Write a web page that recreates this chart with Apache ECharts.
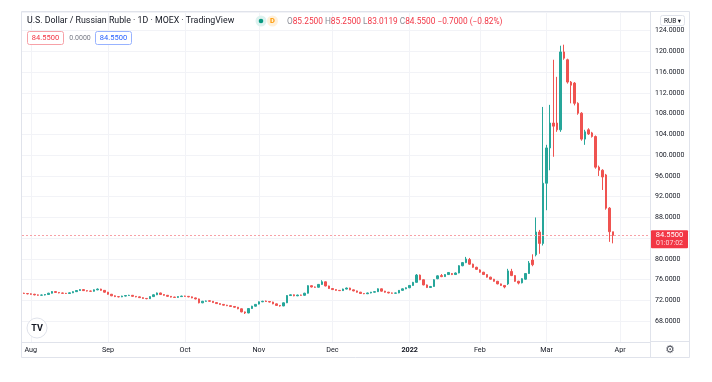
<!DOCTYPE html>
<html><head><meta charset="utf-8">
<script src="https://cdn.jsdelivr.net/npm/echarts@6/dist/echarts.min.js"></script>
<style>html,body{margin:0;padding:0;background:#fff;}#c{width:712px;height:382px;}</style>
</head><body><div id="c"></div>
<script>
const categories = [
'2021-07-29','2021-07-30',
'2021-08-02','2021-08-03','2021-08-04','2021-08-05','2021-08-06','2021-08-09','2021-08-10','2021-08-11','2021-08-12','2021-08-13','2021-08-16','2021-08-17','2021-08-18','2021-08-19','2021-08-20','2021-08-23','2021-08-24','2021-08-25','2021-08-26','2021-08-27','2021-08-30','2021-08-31',
'2021-09-01','2021-09-02','2021-09-03','2021-09-06','2021-09-07','2021-09-08','2021-09-09','2021-09-10','2021-09-13','2021-09-14','2021-09-15','2021-09-16','2021-09-17','2021-09-20','2021-09-21','2021-09-22','2021-09-23','2021-09-24','2021-09-27','2021-09-28','2021-09-29','2021-09-30',
'2021-10-01','2021-10-04','2021-10-05','2021-10-06','2021-10-07','2021-10-08','2021-10-11','2021-10-12','2021-10-13','2021-10-14','2021-10-15','2021-10-18','2021-10-19','2021-10-20','2021-10-21','2021-10-22','2021-10-25','2021-10-26','2021-10-27','2021-10-28','2021-10-29',
'2021-11-01','2021-11-02','2021-11-03','2021-11-05','2021-11-08','2021-11-09','2021-11-10','2021-11-11','2021-11-12','2021-11-15','2021-11-16','2021-11-17','2021-11-18','2021-11-19','2021-11-22','2021-11-23','2021-11-24','2021-11-25','2021-11-26','2021-11-29','2021-11-30',
'2021-12-01','2021-12-02','2021-12-03','2021-12-06','2021-12-07','2021-12-08','2021-12-09','2021-12-10','2021-12-13','2021-12-14','2021-12-15','2021-12-16','2021-12-17','2021-12-20','2021-12-21','2021-12-22','2021-12-23','2021-12-24','2021-12-27','2021-12-28','2021-12-29','2021-12-30',
'2022-01-03','2022-01-04','2022-01-05','2022-01-06','2022-01-10','2022-01-11','2022-01-12','2022-01-13','2022-01-14','2022-01-17','2022-01-18','2022-01-19','2022-01-20','2022-01-21','2022-01-24','2022-01-25','2022-01-26','2022-01-27','2022-01-28','2022-01-31',
'2022-02-01','2022-02-02','2022-02-03','2022-02-04','2022-02-07','2022-02-08','2022-02-09','2022-02-10','2022-02-11','2022-02-14','2022-02-15','2022-02-16','2022-02-17','2022-02-18','2022-02-21','2022-02-22','2022-02-24','2022-02-25','2022-02-28',
'2022-03-01','2022-03-02','2022-03-03','2022-03-04','2022-03-09','2022-03-10','2022-03-11','2022-03-14','2022-03-15','2022-03-16','2022-03-17','2022-03-18','2022-03-21','2022-03-22','2022-03-23','2022-03-24','2022-03-25','2022-03-28','2022-03-29','2022-03-30','2022-03-31',
'2022-04-01','2022-04-04','2022-04-05','2022-04-06','2022-04-07','2022-04-08','2022-04-11','2022-04-12','2022-04-13'
];

const opens = [
73.40,73.35,73.28,73.20,73.08,73.02,73.05,73.15,73.40,73.72,
73.55,73.45,73.38,73.35,73.48,73.70,73.92,74.10,73.90,73.82,
73.78,74.05,74.20,73.95,73.60,73.20,72.90,72.75,72.70,72.85,
72.95,73.00,72.80,72.70,72.55,72.40,72.35,72.75,73.10,73.45,
73.15,73.00,72.80,72.65,72.60,72.75,72.85,72.80,72.70,72.50,
72.30,71.55,71.85,71.95,71.85,71.60,71.40,71.25,71.10,71.00,
70.85,70.70,70.40,69.80,69.60,70.45,70.90,71.30,71.75,71.90,
71.80,71.70,71.35,71.05,70.95,71.55,72.95,73.10,72.90,73.05,
73.00,73.40,74.85,74.60,74.55,75.10,75.60,74.80,74.30,74.10,
73.95,73.90,74.20,74.40,74.05,73.85,73.60,73.35,73.30,73.45,
73.60,73.70,74.25,73.80,73.60,73.45,73.40,73.45,73.95,74.25,
74.45,74.90,75.50,76.90,76.00,75.00,74.50,74.70,76.20,76.80,
76.60,77.00,77.20,77.00,77.30,78.70,79.30,79.90,79.00,78.40,
77.90,77.45,77.00,76.50,76.10,75.70,75.20,74.90,75.20,77.60,
76.80,75.70,75.40,76.10,77.20,79.80,80.80,85.20,83.00,94.60,
101.40,106.20,106.20,104.90,119.90,118.40,114.10,113.90,110.00,108.10,
103.10,104.90,104.30,103.60,97.70,97.10,96.20,89.80,85.25
];
const closes = [
73.35,73.28,73.20,73.08,73.02,73.05,73.15,73.40,73.72,73.55,
73.45,73.38,73.35,73.48,73.70,73.92,74.10,73.90,73.82,73.78,
74.05,74.20,73.95,73.60,73.20,72.90,72.75,72.70,72.85,72.95,
73.00,72.80,72.70,72.55,72.40,72.35,72.75,73.10,73.45,73.15,
73.00,72.80,72.65,72.60,72.75,72.85,72.80,72.70,72.50,72.30,
71.55,71.85,71.90,71.85,71.60,71.40,71.25,71.10,71.00,70.85,
70.70,70.40,69.80,69.60,70.45,70.90,71.25,71.75,71.85,71.80,
71.70,71.35,71.05,70.95,71.55,72.95,73.10,72.90,73.05,73.00,
73.40,74.85,74.60,74.55,75.10,75.60,74.80,74.30,74.10,73.95,
73.90,74.20,74.40,74.05,73.85,73.60,73.35,73.30,73.45,73.60,
73.70,74.25,73.80,73.60,73.45,73.40,73.45,73.95,74.25,74.45,
74.90,75.50,76.90,76.00,75.00,74.50,74.70,76.00,76.75,76.60,
77.00,77.40,77.00,77.30,78.70,79.30,80.00,79.00,78.40,78.00,
77.45,77.00,76.50,76.10,75.70,75.20,74.90,74.60,77.70,76.80,
75.70,75.35,76.20,77.20,79.20,78.90,85.20,83.00,94.60,101.40,
106.20,105.60,104.90,119.90,118.70,114.10,113.50,110.00,108.10,103.10,
104.50,104.10,103.60,97.70,97.10,95.80,89.80,85.25,84.55
];
const lows = [
73.25,73.18,73.10,73.00,72.92,72.94,72.98,73.10,73.35,73.48,
73.38,73.30,73.26,73.28,73.42,73.64,73.86,73.84,73.74,73.70,
73.72,73.98,73.88,73.52,73.12,72.84,72.66,72.60,72.64,72.78,
72.88,72.74,72.62,72.48,72.32,72.24,72.30,72.70,73.04,73.08,
72.92,72.74,72.58,72.52,72.54,72.68,72.72,72.62,72.44,72.22,
71.45,71.48,71.78,71.78,71.54,71.34,71.18,71.04,70.92,70.78,
70.62,70.32,69.72,69.40,69.54,70.38,70.84,71.24,71.68,71.72,
71.62,71.28,70.98,70.82,70.90,71.50,72.88,72.82,72.84,72.92,
72.94,73.34,74.52,74.46,74.48,75.02,74.72,74.22,74.02,73.88,
73.82,73.84,74.14,73.98,73.78,73.52,73.28,73.22,73.24,73.38,
73.54,73.64,73.72,73.52,73.38,73.32,73.34,73.40,73.88,74.18,
74.38,74.84,75.44,75.92,74.92,74.40,74.42,74.64,76.10,76.50,
76.54,76.94,76.90,76.94,77.24,78.60,79.20,78.90,78.30,77.90,
77.36,76.92,76.42,76.02,75.62,75.12,74.80,74.35,75.00,76.70,
75.60,75.10,75.30,76.00,77.10,78.60,80.50,81.00,82.60,89.40,
97.10,99.70,104.50,104.50,118.40,113.80,110.00,109.60,107.80,102.80,
102.00,103.90,103.40,97.40,96.00,93.30,89.50,83.30,83.0119
];
const highs = [
73.50,73.42,73.36,73.28,73.16,73.14,73.24,73.48,73.82,73.80,
73.62,73.52,73.46,73.56,73.78,74.00,74.20,74.16,73.96,73.90,
74.12,74.32,74.26,74.00,73.66,73.26,72.98,72.82,72.92,73.04,
73.10,73.06,72.86,72.76,72.62,72.46,72.82,73.18,73.54,73.50,
73.22,73.06,72.86,72.72,72.82,72.92,72.92,72.86,72.76,72.56,
72.36,71.92,71.98,72.02,71.90,71.66,71.46,71.32,71.16,71.06,
70.92,70.76,70.46,69.88,70.52,70.98,71.32,71.82,71.94,71.98,
71.86,71.76,71.42,71.12,71.62,73.04,73.18,73.16,73.12,73.12,
73.48,74.94,74.92,74.68,75.18,75.90,75.66,74.86,74.36,74.16,
74.02,74.28,74.48,74.46,74.10,73.90,73.66,73.42,73.52,73.66,
73.78,74.34,74.30,73.86,73.66,73.52,73.52,74.02,74.32,74.52,
74.98,75.58,77.10,77.00,76.06,75.08,74.80,76.10,76.85,77.10,
77.08,77.48,77.30,77.40,78.80,79.40,80.40,80.20,79.10,78.50,
78.00,77.52,77.06,76.58,76.16,75.78,75.26,74.96,78.10,78.10,
76.90,75.80,76.30,77.30,79.60,80.90,88.00,85.60,109.30,102.00,
109.70,118.40,115.10,121.10,121.30,118.60,114.30,114.10,110.20,108.30,
104.90,105.20,104.50,103.80,98.00,97.30,96.40,90.00,85.25
];
const monthNames = ['Jan','Feb','Mar','Apr','May','Jun','Jul','Aug','Sep','Oct','Nov','Dec'];
const titleText = 'U.S. Dollar / Russian Ruble · 1D · MOEX · TradingView';
const countdown = '01:07:02';
const currency = 'RUB';

const FONT = 'Roboto, "DejaVu Sans", sans-serif';
const UP = '#26a69a', DOWN = '#ef5350';

function isMonthStart(i){
  if (i === 0) return false;
  return categories[i].slice(0,7) !== categories[i-1].slice(0,7);
}
const candleData = opens.map((o,i)=>[o, closes[i], lows[i], highs[i]]);
const n = closes.length;
const lastO = opens[n-1], lastH = highs[n-1], lastL = lows[n-1], lastC = closes[n-1];
const chg = lastC - closes[n-2];
const pct = chg / closes[n-2] * 100;
const fmt = v => v.toFixed(4);
const signed = (v, d) => (v < 0 ? '\u2212' : '+') + Math.abs(v).toFixed(d);

const chart = echarts.init(document.getElementById('c'), null, {renderer:'canvas'});
chart.setOption({
  animation:false,
  backgroundColor:'#ffffff',
  textStyle:{fontFamily:FONT},
  grid:{left:22,right:62,top:12,bottom:40,containLabel:false},
  xAxis:{
    type:'category', data:categories, boundaryGap:true,
    axisLine:{show:true, lineStyle:{color:'#e0e3eb'}},
    axisTick:{show:false},
    axisLabel:{
      interval:(i)=>isMonthStart(i),
      formatter:(v)=>{ const m = +v.slice(5,7); return m===1 ? '{y|'+v.slice(0,4)+'}' : monthNames[m-1]; },
      color:'#131722', fontSize:7.2, margin:5, fontFamily:FONT,
      rich:{y:{fontWeight:'bold', fontSize:7.2, color:'#131722', fontFamily:FONT}}
    },
    splitLine:{show:true, interval:(i)=>isMonthStart(i), alignWithLabel:true, lineStyle:{color:'#f2f3f7', width:1}}
  },
  yAxis:{
    type:'value', position:'right', min:64, max:127.6, interval:4,
    axisLine:{show:false}, axisTick:{show:false},
    axisLabel:{formatter:(v)=>v.toFixed(4), color:'#131722', fontSize:7, margin:5, fontFamily:FONT, showMaxLabel:false, showMinLabel:false},
    splitLine:{show:true, lineStyle:{color:'#f2f3f7', width:1}}
  },
  series:[{
    type:'candlestick', data:candleData, barWidth:2,
    itemStyle:{color:UP, color0:DOWN, borderColor:UP, borderColor0:DOWN, borderWidth:1},
    markLine:{
      silent:true, symbol:'none', animation:false,
      data:[{yAxis:lastC}],
      lineStyle:{color:'#f7a1a7', type:[2,2], width:1, opacity:1},
      label:{show:false}
    }
  }]
});

const yTag = chart.convertToPixel({yAxisIndex:0}, lastC);
const line = (x1,y1,x2,y2,c) => ({type:'line', silent:true, z:50, shape:{x1,y1,x2,y2}, style:{stroke:c||'#e0e3eb', lineWidth:1}});
chart.setOption({graphic:[
  line(21.5,11.5,689.5,11.5),
  line(21.5,11.5,21.5,357.5),
  line(689.5,11.5,689.5,357.5),
  line(21.5,357.5,689.5,357.5),
  line(650.5,11.5,650.5,357.5),
  line(650.5,341.5,689.5,341.5),
  {type:'text', z:60, x:27, y:21, style:{text:titleText, fill:'#131722', fontSize:8.8, fontFamily:FONT, verticalAlign:'middle'}},
  {type:'circle', z:60, shape:{cx:261,cy:21,r:5.5}, style:{fill:'#ddf2ef'}},
  {type:'circle', z:61, shape:{cx:261,cy:21,r:2.3}, style:{fill:'#089981'}},
  {type:'circle', z:60, shape:{cx:272.5,cy:21,r:5.5}, style:{fill:'#fff0d9'}},
  {type:'text', z:61, x:272.5, y:21.5, style:{text:'D', fill:'#ff9800', fontSize:7.5, fontWeight:'bold', fontFamily:FONT, align:'center', verticalAlign:'middle'}},
  {type:'text', z:60, x:287, y:21.5, style:{
    text:'{g|O}{r|'+fmt(lastO)+'} {g|H}{r|'+fmt(lastH)+'} {g|L}{r|'+fmt(lastL)+'} {g|C}{r|'+fmt(lastC)+'} {r|'+signed(chg,4)+' ('+signed(pct,2)+'%)}',
    verticalAlign:'middle', fontSize:8.3, fontFamily:FONT,
    rich:{g:{fill:'#8a8d96', fontSize:8.3, fontFamily:FONT}, r:{fill:'#f23645', fontSize:8.3, fontFamily:FONT}}
  }},
  {type:'rect', z:60, shape:{x:27.5,y:31.5,width:36,height:13,r:2}, style:{fill:'#fff', stroke:'#f7a1a7', lineWidth:1}},
  {type:'text', z:61, x:45.5, y:38.5, style:{text:fmt(lastC), fill:'#f23645', fontSize:7.5, fontFamily:FONT, align:'center', verticalAlign:'middle'}},
  {type:'text', z:61, x:80, y:38.5, style:{text:fmt(0), fill:'#787b86', fontSize:7, fontFamily:FONT, align:'center', verticalAlign:'middle'}},
  {type:'rect', z:60, shape:{x:95.5,y:31.5,width:36,height:13,r:2}, style:{fill:'#fff', stroke:'#98b3ff', lineWidth:1}},
  {type:'text', z:61, x:113.5, y:38.5, style:{text:fmt(lastC), fill:'#2962ff', fontSize:7.5, fontFamily:FONT, align:'center', verticalAlign:'middle'}},
  {type:'rect', z:60, shape:{x:651,y:yTag-5,width:37,height:18,r:1}, style:{fill:'#f23645'}},
  {type:'text', z:61, x:669.5, y:yTag, style:{text:fmt(lastC), fill:'#ffffff', fontSize:7.5, fontFamily:FONT, align:'center', verticalAlign:'middle'}},
  {type:'text', z:61, x:669.5, y:yTag+8, style:{text:countdown, fill:'#ffd6d9', fontSize:7, fontFamily:FONT, align:'center', verticalAlign:'middle'}},
  {type:'rect', z:60, shape:{x:660.5,y:15.5,width:24,height:10,r:2}, style:{fill:'#fff', stroke:'#e0e3eb', lineWidth:1}},
  {type:'text', z:61, x:672.5, y:21, style:{text:currency+' \u25BE', fill:'#131722', fontSize:6.5, fontFamily:FONT, align:'center', verticalAlign:'middle'}},
  {type:'circle', z:60, shape:{cx:37,cy:328,r:10}, style:{fill:'#ffffff', stroke:'#e0e3eb', lineWidth:1}},
  {type:'text', z:61, x:37, y:328.5, style:{text:'TV', fill:'#131722', fontSize:9, fontWeight:'bold', fontFamily:FONT, align:'center', verticalAlign:'middle'}},
  {type:'text', z:61, x:670, y:350, style:{text:'\u2699', fill:'#50535e', fontSize:11, fontFamily:'"DejaVu Sans"', align:'center', verticalAlign:'middle'}}
]});
</script>
</body></html>
